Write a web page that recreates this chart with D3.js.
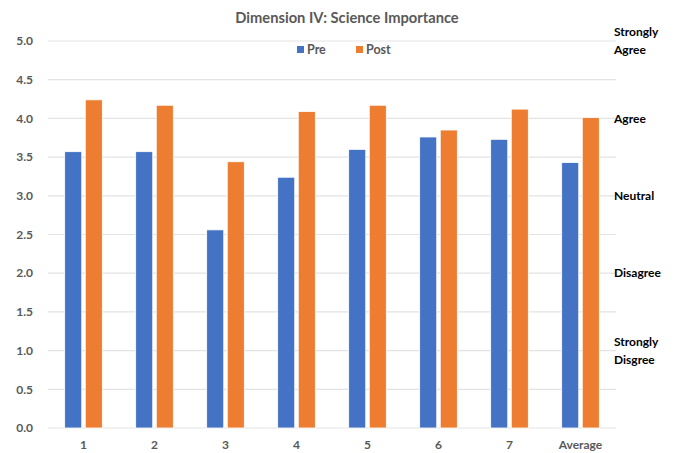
<!DOCTYPE html>
<html>
<head>
<meta charset="utf-8">
<script src="https://cdn.jsdelivr.net/npm/d3@7"></script>
<style>
  body { margin: 0; background: #fff; }
  text { font-family: Lato, "Open Sans", sans-serif; }
</style>
</head>
<body>
<div id="chart"></div>
<script>
// data
var categories = ["1", "2", "3", "4", "5", "6", "7", "Average"];
var series = ["Pre", "Post"];
var preValues = [3.57, 3.57, 2.56, 3.24, 3.60, 3.76, 3.73, 3.43];
var postValues = [4.24, 4.17, 3.44, 4.09, 4.17, 3.85, 4.12, 4.01];
var yTicks = [0, 0.5, 1, 1.5, 2, 2.5, 3, 3.5, 4, 4.5, 5];
var scaleLabels = [
  {value: 5, lines: ["Strongly", "Agree"]},
  {value: 4, lines: ["Agree"]},
  {value: 3, lines: ["Neutral"]},
  {value: 2, lines: ["Disagree"]},
  {value: 1, lines: ["Strongly", "Disgree"]}
];

var colors = {Pre: "#4472C4", Post: "#ED7D31"};
var width = 673, height = 453;
var margin = {top: 41, right: 57, bottom: 25, left: 48};

var svg = d3.select("#chart")
    .append("svg")
    .attr("width", width)
    .attr("height", height);

var x = d3.scaleBand()
    .domain(categories)
    .range([margin.left, width - margin.right])
    .paddingInner(0.47)
    .paddingOuter(0.235);

var xSeries = d3.scaleBand()
    .domain(series)
    .range([0, x.bandwidth()])
    .paddingInner(0.17);

var y = d3.scaleLinear()
    .domain([0, 5])
    .range([height - margin.bottom, margin.top]);

// gridlines
svg.append("g")
    .selectAll("line")
    .data(yTicks)
    .join("line")
    .attr("x1", margin.left)
    .attr("x2", width - margin.right)
    .attr("y1", function(d) { return y(d); })
    .attr("y2", function(d) { return y(d); })
    .style("stroke", "#e3e3e3")
    .style("stroke-width", 1.2);

// y axis labels
svg.append("g")
    .selectAll("text")
    .data(yTicks)
    .join("text")
    .attr("x", 33)
    .attr("y", function(d) { return y(d); })
    .attr("dy", "0.35em")
    .attr("text-anchor", "end")
    .style("font-size", "12px")
    .style("font-weight", "bold")
    .style("fill", "#595959")
    .text(function(d) { return d3.format(".1f")(d); });

// bars
var rows = categories.map(function(c, i) {
  return {cat: c, vals: [{s: "Pre", v: preValues[i]}, {s: "Post", v: postValues[i]}]};
});

var groups = svg.append("g")
    .selectAll("g")
    .data(rows)
    .join("g")
    .attr("transform", function(d) { return "translate(" + x(d.cat) + ",0)"; });

groups.selectAll("rect")
    .data(function(d) { return d.vals; })
    .join("rect")
    .attr("x", function(d) { return xSeries(d.s); })
    .attr("width", xSeries.bandwidth())
    .attr("y", function(d) { return y(d.v); })
    .attr("height", function(d) { return y(0) - y(d.v); })
    .style("fill", function(d) { return colors[d.s]; })
    .style("stroke", "#fff")
    .style("stroke-width", 0.8);

// x axis labels
svg.append("g")
    .selectAll("text")
    .data(categories)
    .join("text")
    .attr("x", function(d) { return x(d) + x.bandwidth() / 2; })
    .attr("y", 449)
    .attr("text-anchor", "middle")
    .style("font-size", "12px")
    .style("font-weight", "bold")
    .style("fill", "#595959")
    .text(function(d) { return d; });

// title
svg.append("text")
    .attr("x", 347)
    .attr("y", 23)
    .attr("text-anchor", "middle")
    .style("font-size", "14.7px")
    .style("font-weight", "bold")
    .style("fill", "#595959")
    .text("Dimension IV: Science Importance");

// legend
var legend = svg.append("g")
    .selectAll("g")
    .data(series)
    .join("g")
    .attr("transform", function(d, i) { return "translate(" + (297 + i * 59) + ",46)"; });

legend.append("rect")
    .attr("width", 7)
    .attr("height", 7)
    .style("fill", function(d) { return colors[d]; });

legend.append("text")
    .attr("x", 10)
    .attr("y", 3.5)
    .attr("dy", "0.35em")
    .style("font-size", "12.5px")
    .style("font-weight", "bold")
    .style("fill", "#595959")
    .text(function(d) { return d; });

// agreement labels on the right
var scale = svg.append("g")
    .selectAll("text")
    .data(scaleLabels)
    .join("text")
    .attr("x", 614)
    .attr("y", function(d) { return y(d.value) - (d.lines.length - 1) * 9; })
    .attr("dy", "0.35em")
    .style("font-size", "12px")
    .style("font-weight", "bold")
    .style("fill", "#000");

scale.selectAll("tspan")
    .data(function(d) { return d.lines; })
    .join("tspan")
    .attr("x", 614)
    .attr("dy", function(d, i) { return i === 0 ? "0.35em" : "18px"; })
    .text(function(d) { return d; });
</script>
</body>
</html>
